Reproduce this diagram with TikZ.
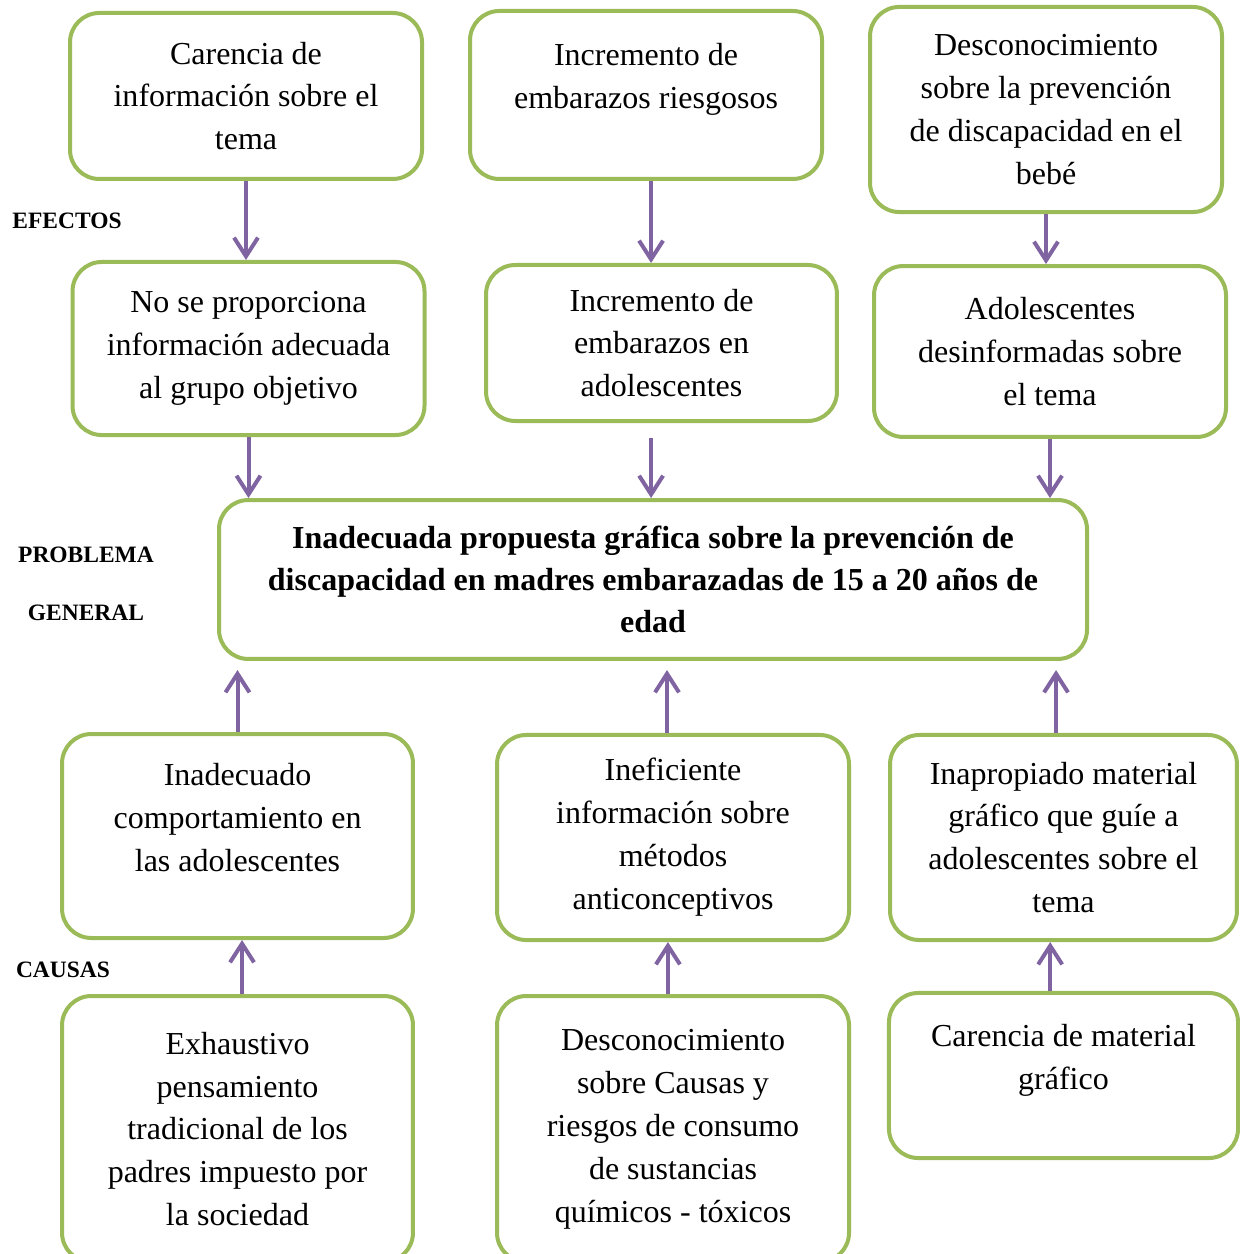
\documentclass[tikz,border=0pt]{standalone}
\usepackage{fontspec}
\setmainfont{Liberation Serif}
\usetikzlibrary{arrows.meta}
\definecolor{dgGreen}{HTML}{9BBB59}
\definecolor{dgPurple}{HTML}{8064A2}
\newcommand{\lift}{\rule[-14pt]{0pt}{0pt}}

\begin{document}
\begin{tikzpicture}[x=0.375pt, y=-0.375pt,
    caja/.style={draw=dgGreen, line width=1.5pt, rounded corners=11pt, fill=white, align=center,
        font=\fontsize{12}{16.1}\selectfont, minimum width=132pt},
    flecha/.style={draw=dgPurple, line width=1.5pt, -{Straight Barb[length=7pt, width=9pt]}},
    etiqueta/.style={font=\fontsize{8.8}{10.5}\selectfont\bfseries, align=center}]
    \useasboundingbox (0,0) rectangle (1239,1254);

    \node[caja, minimum height=62.25pt] (b1) at (246,96) {Carencia de\\información sobre el\\tema};
    \node[caja, minimum height=63pt] (b2) at (646,95) {Incremento de\\embarazos riesgosos\lift};
    \node[caja, minimum height=76.9pt] (b3) at (1046,109.5) {Desconocimiento\\sobre la prevención\\de discapacidad en el\\bebé};

    \node[caja, minimum height=64.9pt] (b4) at (248.5,348.5) {No se proporciona\\información adecuada\\al grupo objetivo};
    \node[caja, minimum height=58.5pt, minimum width=131.6pt] (b5) at (661.5,343) {Incremento de\\embarazos en\\adolescentes};
    \node[caja, minimum height=64.1pt] (b6) at (1050,351.5) {Adolescentes\\desinformadas sobre\\el tema};

    \node[caja, minimum height=59.6pt, minimum width=325.5pt, font=\fontsize{12}{15.75}\selectfont\bfseries] (prob) at (653,579.5)
        {Inadecuada propuesta gráfica sobre la prevención de\\discapacidad en madres embarazadas de 15 a 20 años de\\edad};

    \node[caja, minimum height=76.5pt, minimum width=131.6pt] (b7) at (237.5,836) {Inadecuado\\comportamiento en\\las adolescentes\lift};
    \node[caja, minimum height=76.9pt] (b8) at (673,837.5) {Ineficiente\\información sobre\\métodos\\anticonceptivos};
    \node[caja, minimum height=76.9pt, minimum width=130.1pt] (b9) at (1063.5,837.5) {Inapropiado material\\gráfico que guíe a\\adolescentes sobre el\\tema};

    \node[caja, minimum height=99.75pt, minimum width=131.6pt] (b10) at (237.5,1129) {Exhaustivo\\pensamiento\\tradicional de los\\padres impuesto por\\la sociedad};
    \node[caja, minimum height=99.75pt] (b11) at (673,1129) {Desconocimiento\\sobre Causas y\\riesgos de consumo\\de sustancias\\químicos - tóxicos};
    \node[caja, minimum height=61.9pt, minimum width=130.9pt] (b12) at (1063.5,1075.5) {Carencia de material\\gráfico\lift};

    \node[etiqueta] (efectos) at (67,221) {EFECTOS};
    \node[etiqueta] (problema) at (86,584) {PROBLEMA\\[11.25pt]GENERAL};
    \node[etiqueta] (causas) at (63,970) {CAUSAS};

    \draw[flecha] (b1.south) -- (b1.south |- b4.north);
    \draw[flecha] ([xshift=1.9pt]b2.south) -- ([xshift=1.9pt]b2.south |- b5.north);
    \draw[flecha] (b3.south) -- (b3.south |- b6.north);

    \draw[flecha] (b4.south) -- (b4.south |- prob.north);
    \draw[flecha] ([xshift=-3.9pt, yshift=-5.6pt]b5.south) -- ([xshift=-3.9pt]b5.south |- prob.north);
    \draw[flecha] (b6.south) -- (b6.south |- prob.north);

    \draw[flecha] (b7.north) -- ([yshift=-3.4pt]b7.north |- prob.south);
    \draw[flecha] ([xshift=-2.25pt]b8.north) -- ([xshift=-2.25pt, yshift=-3.4pt]b8.north |- prob.south);
    \draw[flecha] ([xshift=-2.8pt]b9.north) -- ([xshift=-2.8pt, yshift=-3.4pt]b9.north |- prob.south);

    \draw[flecha] ([xshift=1.7pt]b10.north) -- ([xshift=1.7pt]b10.north |- b7.south);
    \draw[flecha] ([xshift=-1.9pt]b11.north) -- ([xshift=-1.9pt]b11.north |- b8.south);
    \draw[flecha] ([xshift=-5pt]b12.north) -- ([xshift=-5pt]b12.north |- b9.south);
\end{tikzpicture}
\end{document}
